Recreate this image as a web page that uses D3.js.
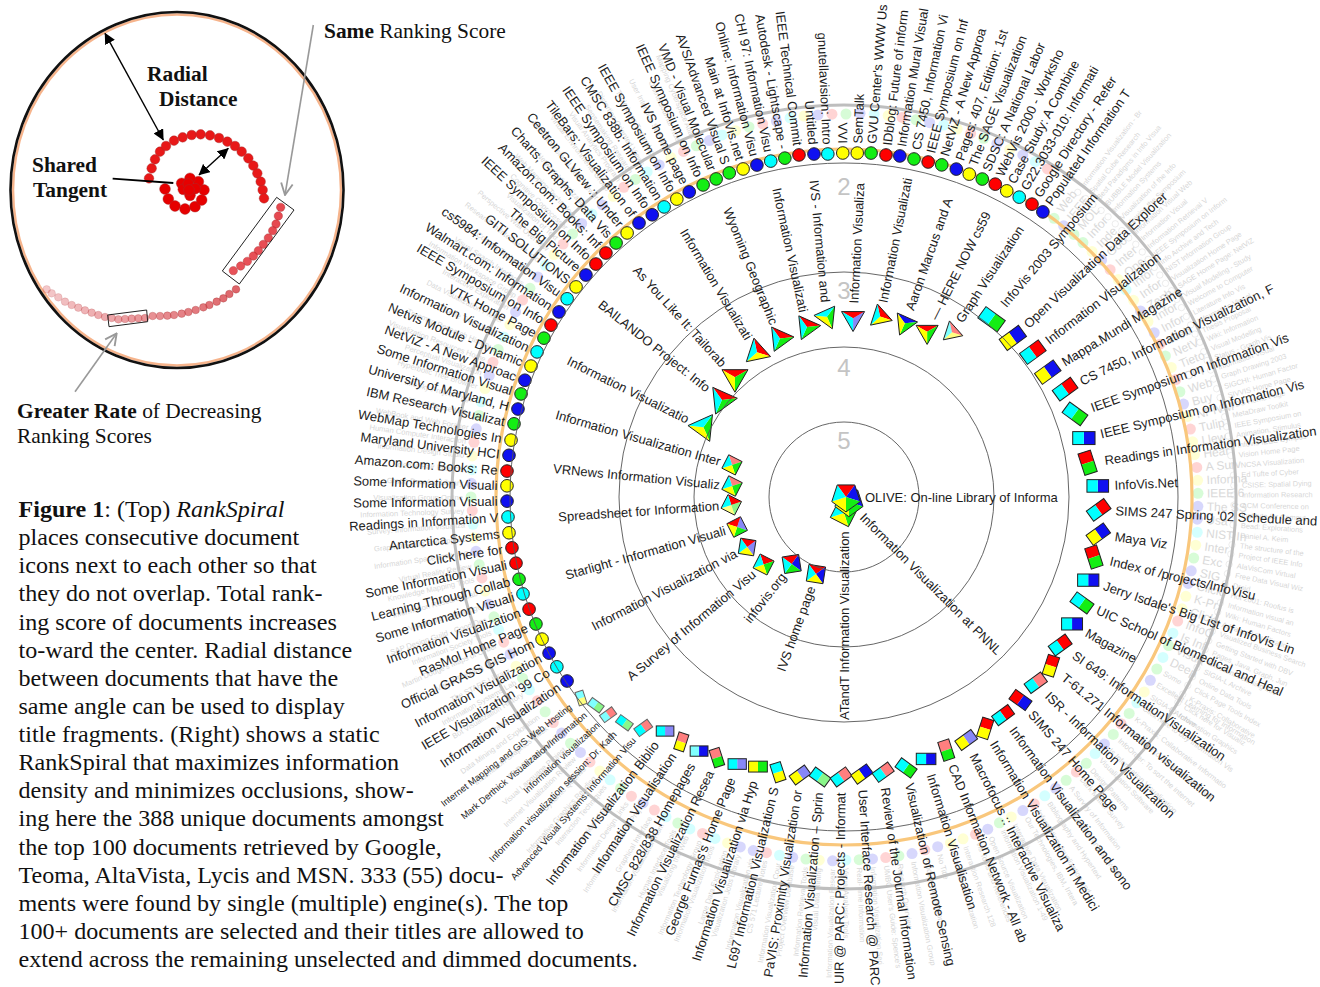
<!DOCTYPE html>
<html><head><meta charset="utf-8">
<script src="https://cdn.jsdelivr.net/npm/d3@7"></script>
<style>html,body{margin:0;padding:0;background:#fff}svg{display:block}</style>
</head><body><svg id="c" width="1320" height="987"></svg>
<script>
// ---------- selected documents, centre of the spiral outwards ----------
const titles = ["OLIVE: On-line Library of Informa","Information Visualization at PNNL","ATandT Information Visualization","IVS home page","infovis.org","A Survey of Information Visu","Information Visualization via","Starlight - Information Visuali","Spreadsheet for Information","VRNews Information Visualiz","Information Visualization Inter",
"Information Visualizatio","BAILANDO Project: Info","As You Like It: Tailorab","Information Visualizati","Wyoming Geographic","Information Visualizati","IVS - Information and","Information Visualiza","Information Visualizati","Aaron Marcus and A","— HERE NOW cs59","Graph Visualization",
"InfoVis 2003 Symposium","Open Visualization Data Explorer","Information Visualization","Mappa.Mundi Magazine","CS 7450, Information Visualization, F","IEEE Symposium on Information Vis","IEEE Symposium on Information Vis","Readings in Information Visualization","InfoVis.Net","SIMS 247 Spring '02 Schedule and","Maya Viz","Index of /projects/InfoVisu","Jerry Isdale's Big List of InfoVis Lin","UIC School of Biomedical and Heal","Magazine","SI 649: InformationVisualization","T-61.271 Information visualization","ISR - Information Visualization","SIMS 247 Home Page","Information Visualization and sono","Information Visualization in Medici","Macrofocus :: Interactive Visualiza","CAD Information Network - All ab","Information Visualisation","Visualization of Remote Sensing","Review of the Journal Information","User Interface Research @ PARC","UIR @ PARC: Projects - Informat","Information Visualization – Sprin","PaVIS: Proximity Visualization or","L697 Information Visualization S","Information Visualization via Hyp","George Furnas's Home Page","Information Visualization Resea","CMSC 828/838 Homepages","Information Visualisation","Information Visualization Biblio","Advanced Visual Systems: Information Visu","Information visualization session: Dr. Kath","Information visualization","Mark Derthick Visualization/Information","Internet Mapping and GIS Web Hosting",
"Information Visualization","IEEE Visualization '99 Co","Information Visualization","Official GRASS GIS Hom","RasMol Home Page","Information Visualization","Some Information Visuali","Learning Through Collab","Some Information Visuali","Click here for","Antarctica Systems","Readings in Information V","Some Information Visuali","Some Information Visuali","Amazon.com: Books: Re","Maryland University HCI","WebMap Technologies In","IBM Research Visualizat","University of Maryland, H","Some Information Visual","NetViZ - A New Approac","Netvis Module - Dynamic","Information Visualization","VTK Home Page","IEEE Symposium on Info","Walmart.com: Information","cs5984: Information Visu","GITI SOLUTIONS","The Big Picture","IEEE Symposium on Info","Amazon.com: Books: Inf","Charts, Graphs, Data Vis","Ceetron GLView :: Under","TileBars: Visualization of","IEEE Symposium on Info","CMSC 838b: Information","IEEE Symposium on Info","IVS home page","IEEE Symposium on Info","VMD - Visual Molecular","AVS/Advanced Visual S","Main at InfoVis.net","Online: Information Visu","CHI 97: Information Visu","Autodesk - Lightscape -","IEEE Technical Commit","Untitled","gnutellavision: Intro","VVI","SemTalk","GVU Center's WWW Us","IDblog: Future of inform","Information Mural Visual","CS 7450, Information Vi","IEEE Symposium on Inf","NetViZ - A New Approa","Pages: 407, Edition: 1st","The SAGE Visualization","SDSC: A National Labor","WebVis 2000 - Worksho","Case Study: A Combine","G22.3033-010: Informati","Google Directory - Refer","Populated Information T"];
const angles = [90,135,180,200,218,230,242.7,254.3,266,275.6,286,
296.4,308.5,317.7,329,338,347.7,354.6,2.9,11.3,19.3,26.7,33.2,
39.7,46.7,52.5,58.5,64,70.2,76.2,82,87.5,92.9,98.3,103.5,108.8,114,119.1,124.4,129.2,134.1,139,143.9,148.6,153.3,158,162.6,167.1,171.9,176.3,180.6,184.9,189,193.5,197.7,201.8,206,209.7,213.6,217.4,221,224.2,227.3,230,232.6,
236.4,239.4,242.1,244.8,247.6,250.4,253.2,255.8,258.6,261.3,263.9,266.6,269.3,271.9,274.4,277.1,279.7,282.5,285.1,287.7,290.1,292.7,295.3,297.9,300.4,303,305.6,308.1,310.7,313.2,315.7,318.1,320.6,323.2,325.8,328.2,330.7,333.1,335.7,338.1,340.5,342.9,345.3,347.7,350.1,352.5,355,357.3,359.8,2.2,4.5,7,9.3,11.7,14.1,16.4,18.9,21.2,23.5,25.8,28,30.3,32.7,34.9];
const radial = [2,7,16,82,85,105,109,111,113,112.5,116.5,
157,156,162,169,171,174,181,179,184,184,185,197,
231,232,238,239,246,245.5,247,246,254,255,257,257,258,260.5,261,262,267,267,269,270,271,272,273,274.5,278,278,277.6,280,281,281.5,283,283,287.6,290,292.5,294,294.6,306,315,321,324,331,
332.5,333.6,333.7,333.7,333.2,334.3,335.3,335.2,334.6,335.9,336.9,336.6,337,337.2,338,337.6,337.8,338,337.7,339,339.8,339.3,339.5,339.5,339.7,339.8,340.5,340.5,340.4,340.3,340.9,341.3,341.7,342.2,341.2,341.3,341.6,342.1,342.4,342.8,343.8,343.2,343.2,343.8,344,345,344.3,343.4,344,344.2,345,344.6,345.6,345.2,345.4,346.2,346.6,346.3,346.7,347.5,346.7,347.3,348,347.6];
// engines per document: upper case = strong rank, lower case = weak rank
const engines = ["RBGYC","RBGYC","RGYC","RBYC","RBGC","RGYC","RbYC","RbGY","RgyC","rGYC","rGYC",
"CGY","RGC","RGY","RYC","RGC","RGC","CGY","RbC","RYC","BGY","RGY","ryc",
"CG","YB","CR","YB","CR","CG","CB","RG","CB","CR","YB","RG","CB","CG","CB","CR","RY","Cr","RB","CR","RY","Yb","rG","CB","CG","Cr","YB","Cr","Cg","Yb","CY","YG","Cb","rG","cB","rY","Cb","Cr","Cg","cr","cg","cy",
"B","C","B","Y","G","R","C","G","R","R","Y","C","B","Y","R","B","Y","G","B","G","B","Y","C","G","R","B","C","Y","B","R","R","G","Y","B","B","C","Y","B","G","G","G","Y","B","C","G","R","B","C","Y","Y","G","R","B","G","R","G","B","Y","G","R","Y","C","R","B"];

// ---------- dimmed documents (first turn after the selected ones) ----------
const dimAngle = [37,39,41.2,43.2,45.3,47.4,49.5,51.6,53.7,55.8,
57.9,60,62.1,64.2,66.3,68.4,70.5,72.6,74.7,76.8,
78.9,81,83.1,85.2,87.3,89.4,91.5,93.6,95.7,97.8,
99.9,102,104.1,106.2,108.3,110.4,112.5,114.6,116.7,118.8,
120.9,123,125.1,127.2,129.3,131.4,133.5,135.6,137.7,139.8,
141.9,144,146.1,148.2,150.3,152.4,154.5,156.6,158.7,160.8,
162.9,165,167.1,169.2,171.3,173.4,175.5,177.6,179.7,181.8,
183.9,186,188.1,190.2,192.3,194.4,196.5,198.6,200.7,202.8,
204.9,207,209.1,211.2,213.3,215.4,217.5,219.6,221.7,223.8,
225.9,228,230.1,232.2,234.3,236.4,238.5,240.6,242.7,244.8,
246.9,249,251.1,253.2,255.3,257.4,259.5,261.6,263.7,265.8,
267.9,270,272.1,274.2,276.3,278.4,280.5,282.6,284.7,286.8,
288.9,291,293.1,295.2,297.3,299.4,301.5,303.6,305.7,307.8,
309.9,312,314.1,316.2,318.3,320.4,322.5,324.6,326.7,328.8,
330.9,333,335.1,337.2,339.3,341.4,343.5,345.6,347.7,349.8,
351.9,354,356.1,358.2,0.3,2.4,4.5,6.6,8.7,10.8,
12.9,15,17.1,19.2,21.3,23.4,25.5,27.6,29.7,31.8];
const dimRadial = [349,349,349,349,349,350,350,350,350,350,
350,351,351,351,351,352,352,352,352,353,
353,353,353,354,354,354,354,354,355,355,
355,355,355,356,356,356,356,357,357,357,
357,358,358,358,358,359,359,359,360,360,
360,360,360,361,361,361,361,362,362,362,
362,362,362,363,363,363,363,363,363,364,
364,364,364,364,364,365,365,365,365,365,
366,366,366,366,366,367,367,367,367,367,
367,368,368,368,368,368,369,369,369,369,
370,370,370,371,371,371,371,372,372,372,
372,373,373,373,374,374,374,374,375,375,
375,376,376,376,376,377,377,377,377,378,
378,378,378,379,379,379,379,380,380,380,
380,381,381,381,381,382,382,382,382,382,
383,383,383,383,383,384,384,384,384,384,
384,385,385,385,385,385,385,386,386,386];
const dimEngine = "gbggybrycybybrgyrgbyryyrygbbcygbbyyrcgcgbycgrgbcgrgbcrbygbryybrbgrbgcbygbcrbbycrcgcrbrgcyrbgbrgrcgybrcgbyrgbycrgbcyrbgcybrgcybrgbcyrgbcbyrgcbyrgbcygrbcybrgbcyrgbcyrgbybcr";
const dimTitle = ["Web","IEEE","MOL","Infor","Inde","Goo","Inter","Ope","Infor","Infor","Zeph","Infor","Infor","Web","NetV","Tieto","CPI","Web","Buy","NPIVM","Tulip","Llew","Hear","A Surv","Informa","IEEE 6","The SS","Usa","NIST In","Inter","Exc","SIG","Click","K-Pr","Click","InfoO","Is Inf","Visua","Deep","Some",
"Excellent Learning for Information","SIGIA-L Archive","Click here to buy Information Vis","K-Praxis: Collaborative Informatio","Click here to buy Information Vis","InfoOrder: To sort the internet","Is Information Visualization","Visualization Software","Design Patterns","Dark Matter Survey","A Survey of Information","Best Resources and Software","Bibliography and Hypertext","Information visualization and","Our Technologies, IBM, Intera","Interactive Data Visualization","Information Visualization 1-49","Open Source Visualization","Vis Tools and References","Interaction Research 128","Information visualization","No Title","Product Descriptions","Information Visualization Group","Research Overview","UMBC User's Guide: Spence's","Information Visualization Seri","Real-Time Information","Visual Analysis Tools","Information Visualization Resear","Visual Data Mining","Information Retrieval Tools","Project Overview Database","Information Visualization Cour","CS 571 Lecture Notes","Information Visualization via","Visualization Jobs Library","Large Data Exploration","Information Visualization Tools","Information Technology Group","Visualizing the Web","Human Interface Tools","Information Visualization Hom","Graphical Interface","Information Visualization Proj","Information Design Links","Visual Overview of Search","Interaction Techniques","Informative Graphics Reading","Dynamic Queries",
"Internet Visualization Review","Visual Language Project","SAP Design Guild","Information Graphics Index","Data Mining and Exploration","3D Visualization Center","Bot Visualization History","Information Systems Lab","The STARS Library","Visual Thinking Guide","Martin Dodge's Maps of Cyber","Information Society Tools","SAP Design Guild - Good Des","Visualizing Knowledge","Information Research Lab","Knowledge Mapping Tools","Virtual Reality Review","Information Space Browsing","Graph Drawing and Applied","Survey: Information Visualiza","Information Technology Survey","Visualisation Group Online","Graph Drawing Library","Science Fair Projects","Information Design Studio","Human Computer Interaction","WebBook and Web Forager","Visual Sense Links","InfoSky Project Page","Hyperbolic Tree Browser","Perceptual Visualization","Visualization Resources Home","Treemap Research History","Cone Tree Demo","Data Visualization Primer","Interactive Exploration","Information Workspace Group","Visual Search Interfaces","Focus + Context Techniques","Research in Interactive Info","Perspective Wall Overview","Visualization of Text","Cognitive Coprocessor","Web Mapping Technology","Network Visualization","Multidimensional Data Viewer","Virtual Environments Group","Visual Analytics Program","Sensemaking Research","Distortion Oriented Views","Table Lens Technology","User Interface Software","Online Journal Index","Mapping Cyberspace Atlas"];

// ---------- dimmed documents (second turn, small titles beyond the grey ring) ----------
const outerAngle = [37.5,39,40.4,41.9,43.3,44.8,46.2,47.7,49.1,50.6,52,53.5,54.9,56.4,57.8,59.3,60.7,62.2,63.6,65.1,66.5,68,69.4,70.9,72.3,73.8,75.2,76.7,78.1,79.6,81,82.5,83.9,85.4,86.8,88.3,89.7,91.2,92.6,94.1,95.5,97,98.4,99.9,101.3,102.8,104.2,105.7,107.1,108.6,110,111.5,112.9,114.4,115.8,117.3,118.7,120.2,121.6,123];
const outerRadial = [384,384,384,385,385,385,385,385,386,386,386,386,386,386,387,387,387,387,387,387,388,388,388,388,388,388,389,389,389,389,389,389,389,390,390,390,390,390,390,390,390,391,391,391,391,391,391,391,391,391,392,392,392,392,392,392,392,392,392,392];
const outerTitle = ["Information Visualization - Br","Spatial Cube Research","Best Paradigms in Info Visua","BUBBLE Model Visualization","Information Systems","Visualization of the Info","Viewing the Symposium","Information Visual Web","Information Visual","Information Retrieval V","IEEE Symposium on Inform","Info Archive and Tech","NIST Information Group","Visualization Home Page","SAGE Home Page: NetViZ","Visual Modeling - Study","Welcome to Computer","Literature Info Vis","Information Visual","Thesis Proposal","Wiki: Information","Visual Modelling","Status - Graph Vis","Information Visual","Graph Drawing 2003","SIGCHI: Human Factor","SIVVIS Home Page","VDS Home Page","MetaDraw Toolkit","IEEE Symposium on","Animation, Stimulus","Infovis-IEEE Sympos","Vision Home Page","NCSA Visualization","Ed Tufte of Cyber","CSISE: Spatial Dying","Information Research","ACM Conference on","Institute for Comput","Bead: Explorations","Daniel A. Keim","The structure of the","Project of IEEE Info","AlaVisCom Virtual","Free Data Visual Wiz","Droid","Hot 2001: Roofus is","Information visual an","Wiki: Human Factors","Advance Visualization","Visualized Business Search","Getting Started with DBV","Pages, Java, Graph, Jun","Excellent Learning Info","SIGIA-L Archive","Online Data Tools","Click Page Tools Index","K-Praxis: Collaborative","Click here for Visualiz","Information Graphics"];

// ---------- circles of the polar frame ----------
const ringTicks = ["5","4","3","2"];
const ringRadial = [75,150,225,334];
const ringTickRadial = [57,130,207,311];
const guideOrangeRadial = 348, guideGreyRadial = 392;

// ---------- engine wedge directions (degrees clockwise from top) ----------
const engineNames = ["r","b","g","y","c"];
const engineAngle = [0,72,144,216,288];
const engineColor = ["#ff0000","#1010f0","#14ee14","#ffff00","#00ffff"];

// ---------- inset: a RankSpiral sketch, read in inset units ----------
const insetCoreX=[495,505,525,555,585,605,612,595,570,545,550,565,585,570,567],insetCoreY=[567,597,618,627,620,600,570,545,535,550,568,552,566,586,570];
const insetArmX=[447,455,465,480,498,522,548,575,602,630,657,682,705,725,745,760,772,782,788,792],insetArmY=[535,505,478,455,438,422,412,405,403,406,414,425,438,455,475,497,520,545,570,595];
const insetSameX=[842,835,828,818,805,790,775,760,742,722,700],insetSameY=[622,648,672,692,714,733,752,768,784,798,812];
const insetTailX=[708,688,670,650,628,610,587,565,545,522,502,480,458,435,415,395,375,355,335,315,295,275,255,235,215,195,175,155,140],insetTailY=[868,882,895,905,915,922,930,936,941,945,947,948,948,954,955,956,957,958,954,951,945,938,931,923,915,905,892,880,868];

const captionLines = [
 [["b","Figure 1"],["",": (Top) "],["i","RankSpiral"]],
 [["","places consecutive document"]],[["","icons next to each other so that"]],[["","they do not overlap. Total rank-"]],
 [["","ing score of documents increases"]],[["","to-ward the center. Radial distance"]],[["","between documents that have the"]],
 [["","same angle can be used to display"]],[["","title fragments. (Right) shows a static"]],[["","RankSpiral that maximizes information"]],
 [["","density and minimizes occlusions, show-"]],[["","ing here the 388 unique documents amongst"]],[["","the top 100 documents retrieved by Google,"]],
 [["","Teoma, AltaVista, Lycis and MSN. 333 (55) docu-"]],[["","ments were found by single (multiple) engine(s). The top"]],
 [["","100+ documents are selected and their titles are allowed to"]],[["","extend across the remaining unselected and dimmed documents."]]];

// ======================= drawing =======================
const svg = d3.select("#c");
const SANS = "'Liberation Sans',Arial,sans-serif", SERIF = "'Liberation Serif','Times New Roman',serif";
const aScale = d3.scaleLinear().domain([0,360]).range([0,2*Math.PI]);
const rScale = d3.scaleLinear().domain([0,400]).range([0,400]);
const main = svg.append("g").attr("transform","translate(844,497)");
const line = d3.line();
const engIdx = ch => engineNames.indexOf(ch.toLowerCase());
const pos = (th,r) => d3.pointRadial(aScale(th), rScale(r));

function labelTransform(th,r){
  const t=((th%360)+360)%360;
  return t<180 ? `rotate(${t-90}) translate(${r},0)` : `rotate(${t+90}) translate(${-r},0)`;
}
const anchor = th => { const t=((th%360)+360)%360; return t<180?"start":"end"; };

// dimmed small titles, second turn
main.append("g").selectAll("text").data(outerTitle).join("text")
  .attr("transform",(d,i)=>labelTransform(outerAngle[i],rScale(outerRadial[i])+8))
  .attr("text-anchor",(d,i)=>anchor(outerAngle[i])).attr("dy",".35em")
  .attr("font-family",SANS).attr("font-size",7.4).attr("fill","#777").attr("opacity",.3).text(d=>d);
main.append("g").selectAll("circle").data(outerAngle).join("circle")
  .attr("cx",(d,i)=>pos(d,outerRadial[i])[0]).attr("cy",(d,i)=>pos(d,outerRadial[i])[1])
  .attr("r",3.2).attr("fill","none").attr("stroke","#999").attr("stroke-opacity",.18);

// dimmed titles, first turn
const dim = dimAngle.map((a,i)=>({a,r:dimRadial[i],e:dimEngine[i]||"g",t:dimTitle[i]||""}));
main.append("g").selectAll("text").data(dim).join("text")
  .attr("transform",d=>labelTransform(d.a,rScale(d.r)+(d.a<118?9:8)))
  .attr("text-anchor",d=>anchor(d.a)).attr("dy",".35em").attr("font-family",SANS)
  .attr("font-size",d=>d.a<118?12:7.6).attr("fill",d=>d.a<118?"#d6d6d6":"#777").attr("opacity",d=>d.a<118?.9:.3).text(d=>d.t);

// guide circles
main.append("circle").attr("r",rScale(guideGreyRadial)).attr("fill","none").attr("stroke","#bbb").attr("stroke-width",3).attr("opacity",.95);
main.append("g").selectAll("circle").data(dim).join("circle")
  .attr("cx",d=>pos(d.a,d.r)[0]).attr("cy",d=>pos(d.a,d.r)[1]).attr("r",5.5)
  .attr("fill",d=>engineColor[engIdx(d.e)]).attr("opacity",.17);
main.append("circle").attr("r",rScale(guideOrangeRadial)).attr("fill","none").attr("stroke","#f9c77c").attr("stroke-width",3.2);

// frame tick labels
main.append("g").selectAll("text").data(ringTicks).join("text")
  .attr("x",0).attr("y",(d,i)=>-rScale(ringTickRadial[i])).attr("dy",".36em").attr("text-anchor","middle")
  .attr("font-family",SANS).attr("font-size",24).attr("fill","#c4c4c4").text(d=>d);

// glyphs, outermost first
const rectLen = d3.scaleLinear().domain([230,331]).range([24,14]).clamp(true);
const triR = d3.scaleLinear().domain([157,197]).range([15.5,11.5]).clamp(true);
const polyR = d3.scaleLinear().domain([0,120]).range([15,10.5]).clamp(true);
const docs = titles.map((t,i)=>({t,a:angles[i],r:radial[i],e:engines[i]}));
const glyphs = main.append("g");
const wedgeFill = ch => engineColor[engIdx(ch)];
const wedgeFade = ch => ch===ch.toUpperCase()?1:.5;
[...docs].reverse().forEach(d=>{
  const [x,y]=pos(d.a,d.r), g=glyphs.append("g").attr("transform",`translate(${x},${y})`);
  const parts=[...d.e].sort((p,q)=>engIdx(p)-engIdx(q));
  if(parts.length===1){
    g.append("circle").attr("r",6.3).attr("fill",wedgeFill(parts[0])).attr("stroke","#222").attr("stroke-width",1);
  } else if(parts.length===2){
    const pa=d3.pointRadial(aScale(engineAngle[engIdx(parts[0])]),1), pb=d3.pointRadial(aScale(engineAngle[engIdx(parts[1])]),1);
    let ang=Math.atan2(pb[1]-pa[1],pb[0]-pa[0])*180/Math.PI;
    const L=rectLen(d.r), W=L*.58, stroke=d.r>300?"#666":"#222";
    const rg=g.append("g").attr("transform",`rotate(${ang})`);
    rg.append("rect").attr("x",-L/2).attr("y",-W/2).attr("width",L).attr("height",W).attr("fill","#fff");
    rg.append("rect").attr("x",-L/2).attr("y",-W/2).attr("width",L/2).attr("height",W).attr("fill",wedgeFill(parts[0])).attr("fill-opacity",wedgeFade(parts[0]));
    rg.append("rect").attr("x",0).attr("y",-W/2).attr("width",L/2).attr("height",W).attr("fill",wedgeFill(parts[1])).attr("fill-opacity",wedgeFade(parts[1]));
    rg.append("rect").attr("x",-L/2).attr("y",-W/2).attr("width",L).attr("height",W).attr("fill","none").attr("stroke",stroke).attr("stroke-width",1);
    d.pad=L*.5+6;
  } else {
    const R=parts.length===3?triR(d.r):polyR(d.r);
    const ea=parts.map(p=>engineAngle[engIdx(p)]), n=ea.length, step=360/n;
    const mids=ea.map((v,i)=>(v+(i===n-1?ea[0]+360:ea[i+1]))/2);
    // regular polygon best fitting the wedge directions
    const off=d3.sum(mids,(m,i)=>Math.sin(aScale(m-i*step))), ofc=d3.sum(mids,(m,i)=>Math.cos(aScale(m-i*step)));
    const base=Math.atan2(off,ofc)*180/Math.PI;
    const verts=mids.map((m,i)=>d3.pointRadial(aScale(base+i*step),R));
    g.append("path").attr("d",line(verts)+"Z").attr("fill","#fff");
    parts.forEach((p,i)=>{
      const a=verts[(i-1+n)%n], b=verts[i];
      g.append("path").attr("d",line([[0,0],a,b])+"Z").attr("fill",wedgeFill(p)).attr("fill-opacity",wedgeFade(p));
    });
    g.append("path").attr("d",line(verts)+"Z").attr("fill","none").attr("stroke","#222").attr("stroke-width",1);
    d.pad=R+(d.r<30?4:1.5);
  }
});

// thin frame circles over the glyphs
main.append("g").selectAll("circle").data(ringRadial).join("circle").attr("r",d=>rScale(d))
  .attr("fill","none").attr("stroke","#555").attr("stroke-width",1).attr("stroke-opacity",.9);

// selected titles
const labelFont = d => d.e.length===2 && d.r>300 ? (d.r>320?9.3:9.6) : 13;
main.append("g").selectAll("text").data(docs).join("text")
  .attr("transform",d=>labelTransform(d.a,rScale(d.r)+(d.pad||9.5)))
  .attr("text-anchor",d=>anchor(d.a)).attr("dy",".35em").attr("font-family",SANS)
  .attr("font-size",labelFont).attr("fill","#1c1c1c").text(d=>d.t);

// ---------- inset ----------
const ix=d3.scaleLinear().domain([0,1020]).range([0,340]), iy=d3.scaleLinear().domain([0,1380]).range([0,460]);
const inset=svg.append("g");
inset.append("ellipse").attr("cx",177).attr("cy",190).attr("rx",164).attr("ry",175.5).attr("fill","none").attr("stroke","#f6b48c").attr("stroke-width",2.5);
inset.append("ellipse").attr("cx",177).attr("cy",190).attr("rx",166.5).attr("ry",178).attr("fill","none").attr("stroke","#111").attr("stroke-width",2.6);
const defs=svg.append("defs");
defs.append("marker").attr("id","ah").attr("viewBox","0 0 10 10").attr("refX",9.5).attr("refY",5).attr("markerWidth",11).attr("markerHeight",11).attr("markerUnits","userSpaceOnUse").attr("orient","auto-start-reverse").append("path").attr("d","M0,0L10,5L0,10Z").attr("fill","#000");
defs.append("marker").attr("id","open").attr("viewBox","0 0 12 12").attr("refX",11).attr("refY",6).attr("markerWidth",14).attr("markerHeight",14).attr("markerUnits","userSpaceOnUse").attr("orient","auto").append("path").attr("d","M1,1L11,6L1,11").attr("fill","none").attr("stroke","#999").attr("stroke-width",1.6);
const arms=[[insetTailX,insetTailY,3.8,"#d94a50",[.85,.3]],[insetSameX,insetSameY,4.2,"#e3343c",[.9,.85]],[insetArmX,insetArmY,4.8,"#e81818",[1,1]],[insetCoreX,insetCoreY,5.4,"#e60000",[1,1]]];
arms.forEach(([xs,ys,rad,col,op])=>{
  const fade=d3.scaleLinear().domain([0,xs.length-1]).range(op);
  inset.append("g").selectAll("circle").data(xs).join("circle").attr("cx",d=>ix(d)).attr("cy",(d,i)=>iy(ys[i])).attr("r",rad)
    .attr("fill",col).attr("fill-opacity",(d,i)=>fade(i)).attr("stroke","#a03030").attr("stroke-width",.6).attr("stroke-opacity",(d,i)=>fade(i)*.7);
});
const boxes=[[[830,592],[882,630],[718,852],[667,813]],[[323,945],[440,930],[443,965],[327,980]]];
inset.append("g").selectAll("path").data(boxes).join("path").attr("d",d=>line(d.map(p=>[ix(p[0]),iy(p[1])]))+"Z").attr("fill","none").attr("stroke","#222").attr("stroke-width",1);
const blackArrows=[[[315,100],[490,420]],[[685,445],[597,525]]];
inset.append("g").selectAll("line").data(blackArrows).join("line")
 .attr("x1",d=>ix(d[0][0])).attr("y1",d=>iy(d[0][1])).attr("x2",d=>ix(d[1][0])).attr("y2",d=>iy(d[1][1]))
 .attr("stroke","#000").attr("stroke-width",1.4).attr("marker-start","url(#ah)").attr("marker-end","url(#ah)");
inset.append("line").attr("x1",ix(338)).attr("y1",iy(536)).attr("x2",ix(520)).attr("y2",iy(549)).attr("stroke","#000").attr("stroke-width",1.8);
const greyArrows=[[[940,75],[855,585]],[[225,1175],[350,1000]]];
inset.append("g").selectAll("line").data(greyArrows).join("line")
 .attr("x1",d=>ix(d[0][0])).attr("y1",d=>iy(d[0][1])).attr("x2",d=>ix(d[1][0])).attr("y2",d=>iy(d[1][1]))
 .attr("stroke","#999").attr("stroke-width",1.6).attr("marker-end","url(#open)");
const insetText=[[147,81,[["b","Radial"]]],[159,106,[["b","Distance"]]],[32,172,[["b","Shared"]]],[33,197,[["b","Tangent"]]],[324,38,[["b","Same"],[""," Ranking Score"]]],[17,418,[["b","Greater Rate"],[""," of Decreasing"]]],[17,443,[["","Ranking Scores"]]]];
function runs(sel,parts){parts.forEach(([s,t])=>sel.append("tspan").attr("font-weight",s==="b"?"bold":null).attr("font-style",s==="i"?"italic":null).text(t));}
insetText.forEach(([x,y,p])=>runs(svg.append("text").attr("x",x).attr("y",y).attr("font-family",SERIF).attr("font-size",21.4).attr("fill","#111"),p));

// ---------- caption ----------
const capY=d3.scaleLinear().domain([0,16]).range([517,967]);
captionLines.forEach((p,i)=>runs(svg.append("text").attr("x",18.5).attr("y",capY(i)).attr("font-family",SERIF).attr("font-size",24.08).attr("fill","#111"),p));
</script></body></html>
